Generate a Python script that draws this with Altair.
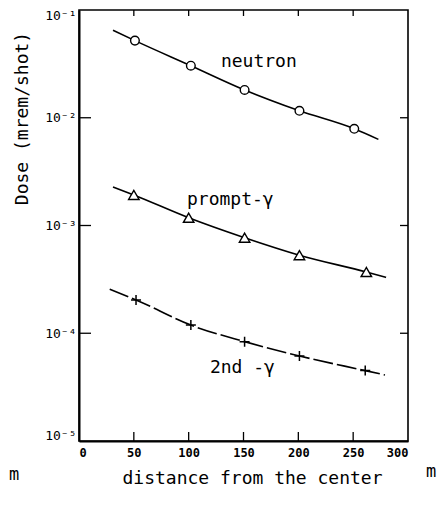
import altair as alt
import pandas as pd

# ---- data ----
dist_neutron = [51, 102, 151, 201, 251]
dose_neutron = [0.052, 0.0304, 0.0181, 0.0116, 0.0079]
line_x_neutron = [31, 51, 102, 151, 201, 251, 273]
line_y_neutron = [0.065, 0.052, 0.0304, 0.0181, 0.0116, 0.0079, 0.0063]

dist_prompt = [50, 100, 151, 201, 262]
dose_prompt = [0.00192, 0.00118, 0.00077, 0.00053, 0.00037]
line_x_prompt = [31, 50, 100, 151, 201, 262, 280]
line_y_prompt = [0.00228, 0.00192, 0.00118, 0.00077, 0.00053, 0.00037, 0.00033]

dist_second = [52, 102, 151, 201, 261]
dose_second = [0.000204, 0.000119, 0.0000836, 0.0000615, 0.000045]
line_x_second = [28, 52, 102, 151, 201, 261, 279]
line_y_second = [0.000256, 0.000204, 0.000119, 0.0000836, 0.0000615, 0.000045, 0.000041]

x_ticks = [50, 100, 150, 200, 250]
x_labels = [0, 50, 100, 150, 200, 250, 300]
y_ticks_inner = [1e-4, 1e-3, 1e-2]
y_labels = [1e-5, 1e-4, 1e-3, 1e-2, 1e-1]

series_labels = ["neutron", "prompt-γ", "2nd -γ"]
label_x = [164, 138, 149]
label_y = [0.0329, 0.00173, 0.0000476]

W, H = 329, 431
FONT = "DejaVu Sans Mono"

xs = alt.Scale(domain=[0, 300], nice=False, zero=False)
ys = alt.Scale(type="log", domain=[1e-5, 1e-1], nice=False)

def line_df(xv, yv):
    return pd.DataFrame({"x": xv, "y": yv})

X = alt.X("x:Q", scale=xs,
          axis=alt.Axis(values=x_labels, ticks=False, grid=False, domain=True,
                        domainColor="black", domainWidth=2,
                        labelFont=FONT, labelFontSize=12, labelFontWeight="bold",
                        labelColor="black", labelPadding=6,
                        title="distance from the center", titleFont=FONT,
                        titleFontSize=18, titleFontWeight="normal", titleColor="black",
                        titleX=173, titleY=42, titleBaseline="alphabetic"))
Y = alt.Y("y:Q", scale=ys,
          axis=alt.Axis(values=y_labels, ticks=False, grid=False, domain=True,
                        domainColor="black", domainWidth=2,
                        labelFont=FONT, labelFontSize=13, labelColor="black",
                        labelPadding=3, labelFlush=True, labelFlushOffset=1,
                        labelExpr="datum.value < 0.00005 ? '10⁻⁵' : datum.value < 0.0005 ? '10⁻⁴' : datum.value < 0.005 ? '10⁻³' : datum.value < 0.05 ? '10⁻²' : '10⁻¹'",
                        title="Dose  (mrem/shot)", titleFont=FONT, titleFontSize=18,
                        titleFontWeight="normal", titleColor="black",
                        titleAngle=270, titleX=-57, titleY=108,
                        titleAlign="center", titleBaseline="middle"))

base_line = alt.Chart(line_df(line_x_neutron, line_y_neutron)).mark_line(
    color="black", strokeWidth=1.6, interpolate="monotone").encode(x=X, y=Y)
l_prompt = alt.Chart(line_df(line_x_prompt, line_y_prompt)).mark_line(
    color="black", strokeWidth=1.6, interpolate="monotone").encode(
    x=alt.X("x:Q", scale=xs), y=alt.Y("y:Q", scale=ys))
l_second = alt.Chart(line_df(line_x_second, line_y_second)).mark_line(
    color="black", strokeWidth=1.6, interpolate="monotone", strokeDash=[20, 4]).encode(
    x=alt.X("x:Q", scale=xs), y=alt.Y("y:Q", scale=ys))

p_neutron = alt.Chart(line_df(dist_neutron, dose_neutron)).mark_point(
    shape="circle", size=75, filled=True, fill="white", stroke="black",
    strokeWidth=1.4, opacity=1).encode(x=alt.X("x:Q", scale=xs), y=alt.Y("y:Q", scale=ys))
p_prompt = alt.Chart(line_df(dist_prompt, dose_prompt)).mark_point(
    shape="triangle-up", size=110, filled=True, fill="white", stroke="black",
    strokeWidth=1.4, opacity=1).encode(x=alt.X("x:Q", scale=xs), y=alt.Y("y:Q", scale=ys))
p_second = alt.Chart(line_df(dist_second, dose_second)).mark_point(
    shape="M-1,0L1,0M0,-1L0,1", size=100, stroke="black",
    strokeWidth=1.5, opacity=1).encode(x=alt.X("x:Q", scale=xs), y=alt.Y("y:Q", scale=ys))

labels = alt.Chart(pd.DataFrame({"x": label_x, "y": label_y, "t": series_labels})).mark_text(
    font=FONT, fontSize=18, color="black", align="center", baseline="middle").encode(
    x=alt.X("x:Q", scale=xs), y=alt.Y("y:Q", scale=ys), text="t:N")

tdf_x = pd.DataFrame({"x": x_ticks})
tdf_y = pd.DataFrame({"y": y_ticks_inner})
tick_top = alt.Chart(tdf_x).mark_rule(color="black", strokeWidth=1.3).encode(
    x=alt.X("x:Q", scale=xs), y=alt.value(0), y2=alt.value(6))
tick_bottom = alt.Chart(tdf_x).mark_rule(color="black", strokeWidth=1.3).encode(
    x=alt.X("x:Q", scale=xs), y=alt.value(H - 9), y2=alt.value(H))
tick_left = alt.Chart(tdf_y).mark_rule(color="black", strokeWidth=1.3).encode(
    y=alt.Y("y:Q", scale=ys), x=alt.value(0), x2=alt.value(12))
tick_right = alt.Chart(tdf_y).mark_rule(color="black", strokeWidth=1.3).encode(
    y=alt.Y("y:Q", scale=ys), x=alt.value(W - 8), x2=alt.value(W))

units = alt.Chart(pd.DataFrame({"t": ["m"]})).mark_text(
    font=FONT, fontSize=17, color="black", align="center", baseline="middle").encode(
    text="t:N", x=alt.value(352), y=alt.value(462))
units_left = alt.Chart(pd.DataFrame({"t": ["m"]})).mark_text(
    font=FONT, fontSize=17, color="black", align="center", baseline="middle").encode(
    text="t:N", x=alt.value(-65), y=alt.value(465))

chart = alt.layer(base_line, l_prompt, l_second, p_neutron, p_prompt, p_second,
                  labels, tick_top, tick_bottom, tick_left, tick_right,
                  units, units_left).properties(
    width=W, height=H,
    autosize=alt.AutoSizeParams(type="none"),
    padding={"left": 71, "top": 2, "right": 32, "bottom": 60},
    background="white",
).configure_view(stroke="black", strokeWidth=1.6)

chart.save("out.html", embed_options={"renderer": "svg", "actions": False})
